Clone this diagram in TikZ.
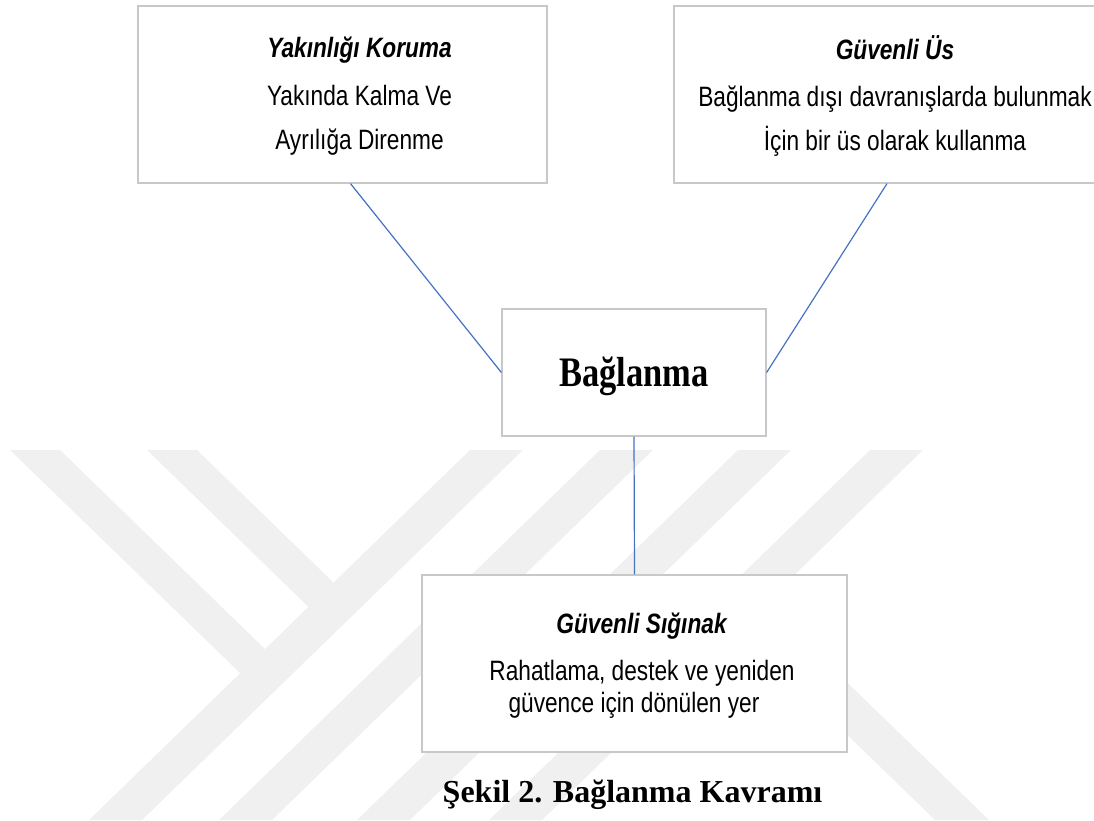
\documentclass[tikz,border=0pt]{standalone}
\usepackage{fontspec}
\usepackage{tikz}
\newfontfamily\boxfont[FakeStretch=0.81]{Liberation Sans}
\newfontfamily\headfont[FakeStretch=0.82]{Liberation Serif}
\newfontfamily\figcapfont{Liberation Serif}
\definecolor{boxline}{RGB}{200,200,200}
\definecolor{linkblue}{RGB}{68,114,196}
\definecolor{wmark}{RGB}{240,240,240}

\begin{document}
\begin{tikzpicture}[x=1pt, y=-1pt,
    box/.style={draw=boxline, line width=1.2pt, fill=white, inner sep=0pt},
    boxtext/.style={align=center, inner sep=0pt, font=\boxfont\fontsize{28}{44}\selectfont},
    link/.style={draw=linkblue, line width=1.2pt}]
    \useasboundingbox (0,0) rectangle (1094,820);
    % Watermark
    \fill[wmark] (10,450) -- (60,450) -- (265,649) -- (240,673) -- cycle;
    \fill[wmark] (147,450) -- (197,450) -- (333.5,582.5) -- (308.5,607) -- cycle;
    \foreach \x in {470,600,738,870}
        \fill[wmark] (\x,450) -- ++(53,0) -- ++(-381,370) -- ++(-53,0) -- cycle;
    \fill[wmark] (731,622) -- (758,596) -- (989,820) -- (935,820) -- cycle;
    % Boxes
    \node[box, minimum width=409pt, minimum height=177pt] (proximity) at (342.5,94.5) {};
    \node[boxtext] (proximitytext) at ([xshift=17pt, yshift=-2pt]proximity.center)
        {\textbf{\textit{Yakınlığı Koruma}}\\[4pt] Yakında Kalma Ve\\ Ayrılığa Direnme};
    \node[box, minimum width=426pt, minimum height=177pt] (base) at (887,94.5) {};
    \node[boxtext] (basetext) at ([xshift=8pt, yshift=-1.5pt]base.center)
        {\textbf{\textit{Güvenli Üs}}\\[3pt] Bağlanma dışı davranışlarda bulunmak\\ İçin bir üs olarak kullanma};
    \node[box, minimum width=264pt, minimum height=127pt] (attach) at (634,372.5) {};
    \node[font=\headfont\bfseries\fontsize{42}{48}\selectfont, inner sep=0pt] (attachtext)
        at ([yshift=-3.5pt]attach.center) {Bağlanma};
    \node[box, minimum width=425pt, minimum height=177pt] (haven) at (634.5,663.5) {};
    \node[boxtext, font=\boxfont\fontsize{28}{32}\selectfont] (haventext) at ([xshift=7.5pt, yshift=-2pt]haven.center)
        {\textbf{\textit{Güvenli Sığınak}}\\[15pt] Rahatlama, destek ve yeniden\\ güvence için dönülen yer\hspace*{16pt}};
    % Links
    \draw[link] ([xshift=8pt]proximity.south) -- (attach.west);
    \draw[link] (base.south) -- (attach.east);
    \draw[link] (attach.south) -- (haven.north);
    % Caption
    \node[font=\figcapfont\bfseries\fontsize{32}{36}\selectfont, anchor=base, inner sep=0pt] (caption)
        at (632.5,802) {Şekil 2. Bağlanma Kavramı};
\end{tikzpicture}
\end{document}
